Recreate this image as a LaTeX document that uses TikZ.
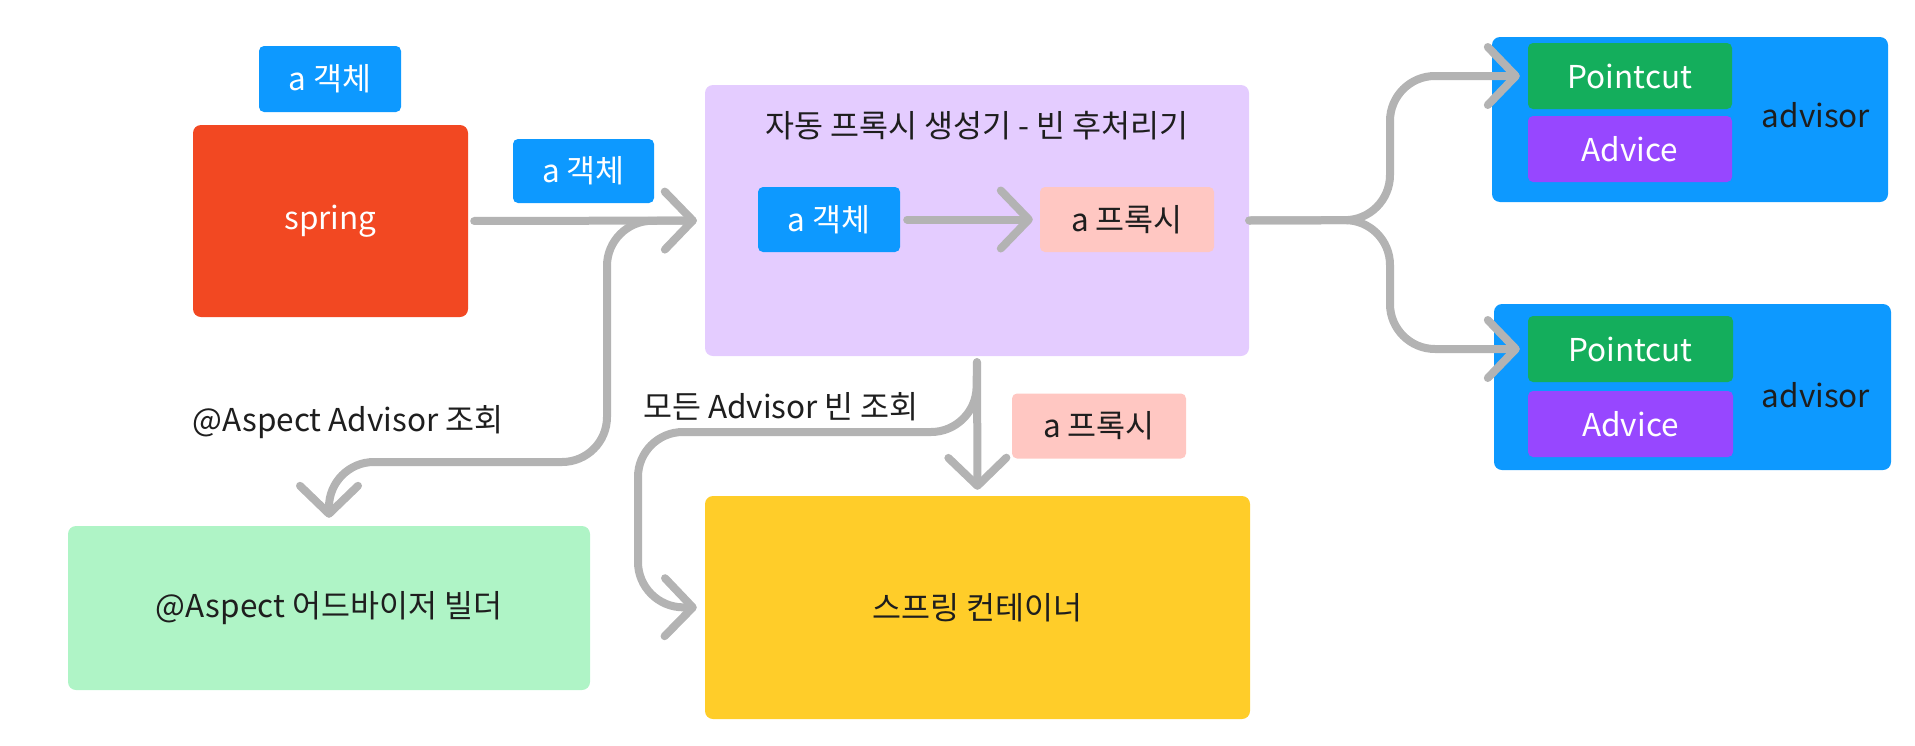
\documentclass[tikz,border=0pt]{standalone}
\usepackage{fontspec}
\setmainfont{Noto Sans CJK KR}
\usetikzlibrary{arrows.meta}
\definecolor{cblue}{HTML}{0D99FF}
\definecolor{cred}{HTML}{F24822}
\definecolor{clav}{HTML}{E4CCFF}
\definecolor{cpink}{HTML}{FFC7C2}
\definecolor{cmint}{HTML}{AFF4C6}
\definecolor{cyel}{HTML}{FFCD29}
\definecolor{cgreen}{HTML}{14AE5C}
\definecolor{cviolet}{HTML}{9747FF}
\definecolor{cgray}{HTML}{B3B3B3}
\definecolor{ctext}{HTML}{1E1E1E}
\begin{document}
\begin{tikzpicture}[x=1pt,y=-1pt,
  box/.style={rounded corners=8pt, inner sep=0pt, draw=none, font=\fontsize{31.5}{36}\selectfont},
  smallbox/.style={box, rounded corners=5pt},
  label/.style={inner sep=0pt, text=ctext, font=\fontsize{31.5}{36}\selectfont},
  conn/.style={draw=cgray, line width=8pt, line cap=round, line join=round, rounded corners=45pt,
    -{Straight Barb[length=28pt,width=58pt,round]}},
  plain/.style={draw=cgray, line width=8pt, line cap=round, line join=round, rounded corners=45pt}
]
\useasboundingbox (0,0) rectangle (1915,745);

% nodes
\node[smallbox, fill=cblue, text=white, minimum width=142pt, minimum height=66pt] (objtop) at (330,79) {a 객체};
\node[box, fill=cred, text=white, minimum width=275pt, minimum height=192pt] (spring) at (330.5,221) {spring};
\node[smallbox, fill=cblue, text=white, minimum width=141pt, minimum height=64pt] (objmid) at (583.5,171) {a 객체};
\node[box, fill=clav, minimum width=544pt, minimum height=271pt] (gen) at (977,220.5) {};
\node[label] (title) at (977,126) {자동 프록시 생성기 - 빈 후처리기};
\node[smallbox, fill=cblue, text=white, minimum width=142pt, minimum height=65pt] (innerobj) at (829,219.5) {a 객체};
\node[smallbox, fill=cpink, text=ctext, minimum width=174pt, minimum height=65pt] (innerproxy) at (1127,219.5) {a 프록시};

\node[box, fill=cblue, minimum width=396pt, minimum height=165pt] (adv1) at (1690,119.5) {};
\node[smallbox, fill=cgreen, text=white, minimum width=204pt, minimum height=66pt] (pc1) at (1630,76) {Pointcut};
\node[smallbox, fill=cviolet, text=white, minimum width=204pt, minimum height=66pt] (ad1) at (1630,149) {Advice};
\node[label] (al1) at (1816,115) {advisor};

\node[box, fill=cblue, minimum width=397pt, minimum height=166pt] (adv2) at (1692.5,387) {};
\node[smallbox, fill=cgreen, text=white, minimum width=205pt, minimum height=66pt] (pc2) at (1630.5,349) {Pointcut};
\node[smallbox, fill=cviolet, text=white, minimum width=205pt, minimum height=66pt] (ad2) at (1630.5,424) {Advice};
\node[label] (al2) at (1816,395) {advisor};

\node[box, fill=cmint, text=ctext, minimum width=522pt, minimum height=164pt] (builder) at (329,608) {@Aspect 어드바이저 빌더};
\node[box, fill=cyel, text=ctext, minimum width=545pt, minimum height=223pt] (container) at (977.5,607.5) {스프링 컨테이너};
\node[smallbox, fill=cpink, text=ctext, minimum width=174pt, minimum height=65pt] (proxylow) at (1099,426) {a 프록시};

\node[label] (lab1) at (348,422) {@Aspect Advisor 조회};
\node[label] (lab2) at (781,407) {모든 Advisor 빈 조회};

% waypoints
\coordinate (fork) at (1390,220);
\coordinate (lt) at (607,221);
\coordinate (lb) at (607,462);
\coordinate (lc) at (329,462);
\coordinate (b1) at (976,432);
\coordinate (b2) at (638,432);
\coordinate (b3) at (638,607);

% connectors
\draw[conn, shorten <=12pt, shorten >=8pt] (gen.west) -- (lt) -- (lb) -- (lc) -- (builder.north);
\draw[conn, shorten <=6pt, shorten >=8pt] (spring.east) -- (gen.west);
\draw[conn, shorten <=7pt, shorten >=7pt] (innerobj.east) -- (innerproxy.west);
\draw[conn, shorten <=6pt, shorten >=8pt] (gen.south) -- (b1) -- (b2) -- (b3) -- (container.west);
\draw[conn, shorten <=6pt, shorten >=6pt] (gen.south) -- (container.north);
\draw[conn, shorten >=8pt] (gen.east) -- (fork) -- (fork |- pc1.west) -- (pc1.west);
\draw[conn, shorten >=8pt] (gen.east) -- (fork) -- (fork |- pc2.west) -- (pc2.west);
\end{tikzpicture}
\end{document}
